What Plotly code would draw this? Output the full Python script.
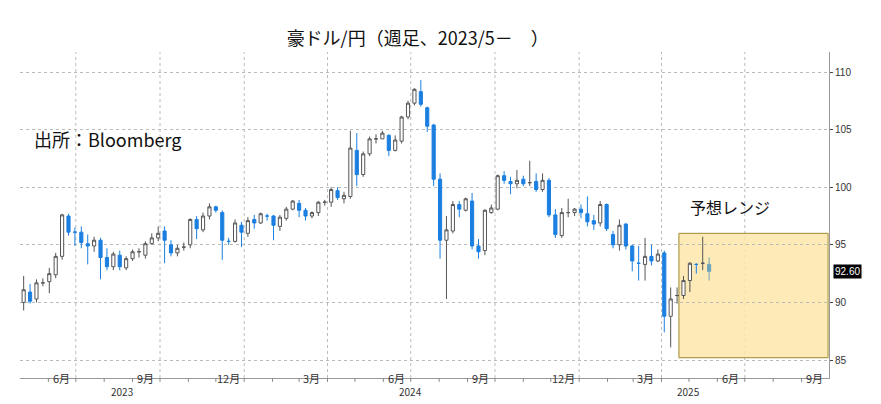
import plotly.graph_objects as go
import pandas as pd

dates = pd.date_range("2023-05-05", periods=108, freq="7D")
opens = [90.0,90.9,90.3,91.7,91.8,92.4,94.0,97.5,96.1,96.1,95.1,94.9,95.4,93.9,93.1,94.1,93.0,93.8,94.4,94.1,
         95.1,95.6,96.2,95.0,94.3,94.8,95.0,97.2,96.3,97.5,98.3,97.8,95.3,95.3,96.7,96.0,97.2,96.9,97.5,97.5,
         96.6,97.3,98.1,98.6,98.0,97.5,97.8,98.7,98.7,99.7,99.0,99.2,103.2,101.1,102.9,104.2,104.2,104.5,103.2,104.0,
         106.1,107.3,108.3,106.9,105.4,100.7,95.4,96.2,98.5,98.0,98.8,94.9,94.5,97.8,98.1,101.0,100.5,100.3,100.7,100.4,
         100.5,99.8,100.6,97.6,95.8,97.8,97.8,98.1,97.7,97.1,96.9,98.5,95.9,95.0,96.8,94.9,93.4,93.3,94.0,93.6,
         94.3,88.8,90.6,90.6,91.9,93.3,93.4,93.3]
closes = [91.1,90.1,91.7,91.7,92.5,94.0,97.6,96.1,96.1,95.2,94.9,95.4,93.9,93.1,94.2,93.1,93.8,94.4,94.4,95.1,
          95.6,96.0,95.4,94.3,94.7,94.8,97.2,96.4,97.5,98.3,98.0,95.4,95.3,96.9,96.1,97.1,96.9,97.7,97.5,96.7,
          97.4,98.1,98.8,98.0,97.5,97.8,98.7,98.7,99.8,99.1,99.3,103.4,101.1,102.9,104.2,104.2,104.7,103.2,104.1,106.1,
          107.3,108.5,107.2,105.3,100.7,95.4,96.3,98.5,98.1,99.0,94.9,94.4,98.0,98.2,101.0,100.6,100.3,100.6,100.3,100.4,
          99.8,100.6,97.6,95.9,97.8,97.8,98.1,97.8,97.0,96.8,98.5,96.4,95.0,96.7,94.9,93.6,93.4,94.0,93.6,94.2,
          88.8,90.3,90.6,91.9,93.4,93.3,93.4,92.7]
highs = [92.3,91.6,92.0,92.1,93.0,94.3,97.7,97.7,96.5,96.6,95.9,95.7,95.6,94.7,94.4,94.5,94.0,94.6,94.7,95.3,
         96.0,96.6,96.6,95.4,95.0,95.2,97.3,97.5,97.8,98.6,98.4,98.0,95.6,97.2,97.0,97.4,97.6,97.8,97.7,97.6,
         97.6,98.3,98.9,98.9,98.2,97.9,98.8,98.9,100.0,100.0,99.6,104.9,104.7,103.1,104.4,104.6,104.9,104.6,104.5,106.2,
         107.5,108.6,109.3,107.0,105.5,101.2,97.5,98.8,98.8,99.1,99.5,95.5,98.1,98.5,101.1,101.4,100.9,101.5,101.0,102.3,
         101.2,101.2,100.8,98.1,98.2,99.0,98.2,98.5,99.2,97.6,98.8,98.6,96.2,97.2,96.9,95.0,94.9,95.6,95.0,94.6,
         94.5,91.3,91.3,92.3,93.5,93.4,95.7,93.9]
lows = [89.3,89.9,90.0,91.4,90.8,92.1,93.7,95.8,94.9,94.7,93.3,94.4,92.0,92.8,92.8,92.8,92.8,93.6,93.9,93.8,
        95.0,95.3,93.4,94.0,94.0,94.5,94.7,95.5,96.1,97.2,97.8,93.7,95.0,95.2,94.8,95.7,96.4,96.8,97.1,95.4,
        96.2,97.1,98.0,97.4,97.1,97.3,97.5,98.4,98.3,98.9,98.6,99.0,100.1,100.9,102.7,103.8,104.2,102.7,103.1,103.8,
        105.9,107.1,107.0,104.8,100.1,93.8,90.3,96.0,97.4,97.9,94.6,93.8,94.1,97.7,98.0,100.3,99.4,99.9,100.1,100.1,
        99.6,99.6,97.4,95.6,95.6,97.4,97.5,97.3,96.6,96.3,96.6,96.2,94.7,94.5,94.6,92.7,91.9,91.9,93.2,93.5,
        87.4,86.1,89.9,90.3,90.9,92.5,92.8,91.9]

tick_dates = ["2023-06-15","2023-09-15","2023-12-15","2024-03-15","2024-06-15","2024-09-15","2024-12-15","2025-03-15","2025-06-15","2025-09-15"]
tick_labels = ["6月","9月","12月","3月","6月","9月","12月","3月","6月","9月"]
grid_dates = ["2023-07-01","2023-10-01","2024-01-01","2024-04-01","2024-07-01","2024-10-01","2025-01-01","2025-04-01","2025-07-01"]
month_dates = pd.date_range("2023-06-01", "2025-09-01", freq="MS")
year_labels = [("2023-08-20","2023"),("2024-07-01","2024"),("2025-05-01","2025")]

fig = go.Figure()
fig.add_shape(type="rect", x0="2025-04-20", x1="2025-09-30", y0=85.2, y1=96.0,
              fillcolor="rgba(253,230,170,0.85)", line=dict(color="#9c8a2e", width=1), layer="below")
fig.add_trace(go.Candlestick(x=dates[:-1], open=opens[:-1], high=highs[:-1], low=lows[:-1], close=closes[:-1],
    increasing=dict(fillcolor="white", line=dict(color="#555555", width=1)),
    decreasing=dict(fillcolor="#1a7fe0", line=dict(color="#1a7fe0", width=1)),
    whiskerwidth=0, showlegend=False))
fig.add_trace(go.Candlestick(x=dates[-1:], open=opens[-1:], high=highs[-1:], low=lows[-1:], close=closes[-1:],
    increasing=dict(fillcolor="#6fa3b8", line=dict(color="#6fa3b8", width=1)),
    decreasing=dict(fillcolor="#6fa3b8", line=dict(color="#6fa3b8", width=1)),
    whiskerwidth=0, showlegend=False))

for g in grid_dates:
    fig.add_shape(type="line", x0=g, x1=g, y0=0, y1=1, yref="paper",
                  line=dict(color="#bbbbbb", width=1, dash="dot"), layer="below")
for m in month_dates:
    fig.add_shape(type="line", x0=m, x1=m, y0=0, y1=-0.012, yref="paper", line=dict(color="#888", width=1))
for d, t in zip(tick_dates, tick_labels):
    fig.add_annotation(x=d, y=0, yref="paper", yshift=-10, text=t, showarrow=False,
                       font=dict(size=11, color="#333", family="Noto Sans CJK JP"))
for d, t in year_labels:
    fig.add_annotation(x=d, y=0, yref="paper", yshift=-23, text=t, showarrow=False,
                       font=dict(size=10, color="#333", family="Noto Sans CJK JP"))

fig.add_annotation(x="2025-06-15", y=98.3, text="予想レンジ", showarrow=False,
                   font=dict(size=16, color="#111", family="Noto Sans CJK JP"))
fig.add_annotation(x=0.015, y=104.2, xref="paper", xanchor="left", text="出所：Bloomberg",
                   showarrow=False, font=dict(size=18, color="#111", family="Noto Sans CJK JP"))
fig.add_annotation(x=1.0, xanchor="left", y=closes[-1], xref="paper", text="92.60", showarrow=False,
                   bgcolor="black", font=dict(size=10, color="white", family="Liberation Sans"), xshift=4)

fig.update_layout(
    width=881, height=404, margin=dict(l=12, r=60, t=44, b=34),
    plot_bgcolor="white", paper_bgcolor="white",
    title=dict(text="豪ドル/円（週足、2023/5－　）", x=0.465, y=0.925, xanchor="center", yanchor="middle",
               font=dict(size=18, color="#111", family="Noto Sans CJK JP")),
    xaxis=dict(range=["2023-05-01", "2025-10-01"], showgrid=False, showticklabels=False,
               rangeslider=dict(visible=False), showline=True, linecolor="#999", ticks=""),
    yaxis=dict(side="right", range=[83.44, 111.74], tickvals=[85, 90, 95, 100, 105, 110],
               showgrid=True, gridcolor="#bbbbbb", griddash="dot", ticks="outside", ticklen=3,
               showline=True, linecolor="#999", tickfont=dict(size=10, color="#333", family="Liberation Sans"),
               zeroline=False),
)
fig.write_html("out.html")
